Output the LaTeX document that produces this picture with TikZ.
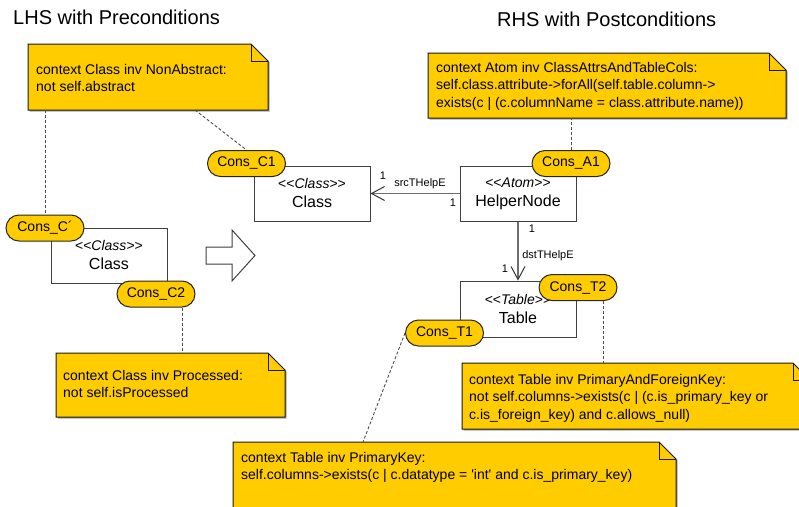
\documentclass[tikz,border=0pt]{standalone}
\usepackage{fontspec}
\setmainfont{Liberation Sans}[Ligatures=TeXOff]
\usetikzlibrary{arrows.meta,calc}

\definecolor{noteyellow}{HTML}{FFCC00}
\definecolor{boxgray}{HTML}{404040}
\definecolor{linegray}{HTML}{6E6E6E}

% multi-line text whose baseline is that of its first line
\newcommand\notelines[1]{\vtop{\baselineskip=17.5pt\lineskip=0pt\lineskiplimit=-20pt\halign{##\hfil\cr#1\crcr}}}

% OCL note with a folded top-right corner, drawn over an empty node
\newcommand\dogear[2]{%
  \fill[black!35,transform canvas={shift={(1.5pt,-1.5pt)}}]
    (#1.north west) -- ([xshift=-#2]#1.north east) -- ([yshift=-#2]#1.north east)
    -- (#1.south east) -- (#1.south west) -- cycle;
  \filldraw[notefill]
    (#1.north west) -- ([xshift=-#2]#1.north east) -- ([yshift=-#2]#1.north east)
    -- (#1.south east) -- (#1.south west) -- cycle;
  \draw[notefill,fill=none] ([xshift=-#2]#1.north east) |- ([yshift=-#2]#1.north east);
}

\tikzset{
  title/.style={font=\fontsize{20pt}{24pt}\selectfont, inner sep=0pt, anchor=west},
  notearea/.style={rectangle, inner sep=0pt, outer sep=0pt},
  notefill/.style={fill=noteyellow, draw=black!90, line width=1pt, line join=miter},
  notetext/.style={anchor=base west, inner sep=0pt, font=\fontsize{14pt}{17.5pt}\selectfont},
  umlbox/.style={draw=boxgray, fill=white, line width=1pt, minimum width=116pt,
    minimum height=55pt, inner sep=0pt, align=center,
    font=\fontsize{16pt}{19pt}\selectfont},
  pill/.style={draw=black!85, fill=noteyellow, line width=1pt, rounded corners=13pt,
    minimum width=78pt, minimum height=26pt, inner sep=0pt,
    font=\fontsize{14pt}{16pt}\selectfont},
  noteline/.style={draw=black!70, line width=0.9pt, dash pattern=on 3pt off 2pt},
  assoc/.style={draw=linegray, line width=1.6pt,
    -{Straight Barb[length=13pt,width=14pt,line width=1pt,color=black!80]}},
  mult/.style={font=\fontsize{11pt}{13pt}\selectfont, inner sep=0pt},
  blockarrow/.style={draw=boxgray, fill=white, line width=1pt, line join=miter},
}

\newcommand\stereo[2]{{\fontsize{14pt}{19pt}\selectfont <<\textit{#1}>>}\\#2}

\begin{document}
\begin{tikzpicture}[x=1pt,y=-1pt]
\useasboundingbox (0,0) rectangle (799,506);
\clip (0,0) rectangle (799,506);

% headings
\node[title] (lhs) at (13,17) {LHS with Preconditions};
\node[title] (rhs) at (497,19) {RHS with Postconditions};

% OCL notes
\node[notearea, minimum width=240pt, minimum height=66pt] (n1) at (148,77) {};
\dogear{n1}{17pt}
\node[notetext] (n1t) at (36,74) {\notelines{context Class inv NonAbstract:\cr not self.abstract}};

\node[notearea, minimum width=358pt, minimum height=65pt] (n2) at (607,85.5) {};
\dogear{n2}{17pt}
\node[notetext] (n2t) at (436,72) {\notelines{context Atom inv ClassAttrsAndTableCols:\cr
  self.class.attribute->forAll(self.table.column->\cr
  exists(c | (c.columnName = class.attribute.name))}};

\node[notearea, minimum width=229pt, minimum height=64pt] (n5) at (170.5,385) {};
\dogear{n5}{17pt}
\node[notetext] (n5t) at (63,380) {\notelines{context Class inv Processed:\cr not self.isProcessed}};

\node[notearea, minimum width=348pt, minimum height=66pt] (n3) at (636,396) {};
\dogear{n3}{17pt}
\node[notetext] (n3t) at (469,384) {\notelines{context Table inv PrimaryAndForeignKey:\cr
  not self.columns->exists(c | (c.is\_primary\_key or\cr
  c.is\_foreign\_key) and c.allows\_null)}};

\node[notearea, minimum width=443pt, minimum height=88pt] (n4) at (454.5,486) {};
\dogear{n4}{17pt}
\node[notetext] (n4t) at (241,462) {\notelines{context Table inv PrimaryKey:\cr
  self.columns->exists(c | c.datatype = 'int' and c.is\_primary\_key)}};

% classes
\node[umlbox] (classL) at (109,255.5) {\stereo{Class}{Class}};
\node[umlbox] (classR) at (312,193.5) {\stereo{Class}{Class}};
\node[umlbox] (helper) at (518,193.5) {\stereo{Atom}{HelperNode}};
\node[umlbox, minimum height=56pt] (table) at (518,309) {\stereo{Table}{Table}};

% transformation arrow
\draw[blockarrow] (206,247) -- (232,247) -- (232,230) -- (255,255.5)
  -- (232,281) -- (232,264) -- (206,264) -- cycle;

% constraint tags
\node[pill] (ccp) at (45,228) {Cons\_C´};
\node[pill] (c2) at (156,294) {Cons\_C2};
\node[pill] (c1) at (246.5,163.5) {Cons\_C1};
\node[pill] (a1) at (571,163.5) {Cons\_A1};
\node[pill] (t2) at (578,287.5) {Cons\_T2};
\node[pill] (t1) at (444.5,333) {Cons\_T1};

% note anchors
\draw[noteline] (n1.south -| ccp.north) -- (ccp.north);
\coordinate (n1c1) at (195,110);
\draw[noteline] (n1c1) -- (c1.north);
\draw[noteline] (a1.north) -- (a1.north |- n2.south);
\coordinate (c2n5) at (182,353);
\draw[noteline] (c2n5 |- c2.south) -- (c2n5);
\coordinate (t2n3) at (603,363);
\draw[noteline] (t2n3 |- t2.south) -- (t2n3);
\coordinate (t1n4) at (363,442);
\draw[noteline] (t1.west) -- (t1n4);

% associations
\draw[assoc] (helper) -- (classR);
\draw[assoc] (helper) -- (table);

% association labels
\node[mult] (m1) at (383,176) {1};
\node[mult] (src) at (420,184) {srcTHelpE};
\node[mult] (m2) at (453,203) {1};
\node[mult] (m3) at (532,229) {1};
\node[mult] (dst) at (548,256) {dstTHelpE};
\node[mult] (m4) at (505,269) {1};
\end{tikzpicture}
\end{document}
